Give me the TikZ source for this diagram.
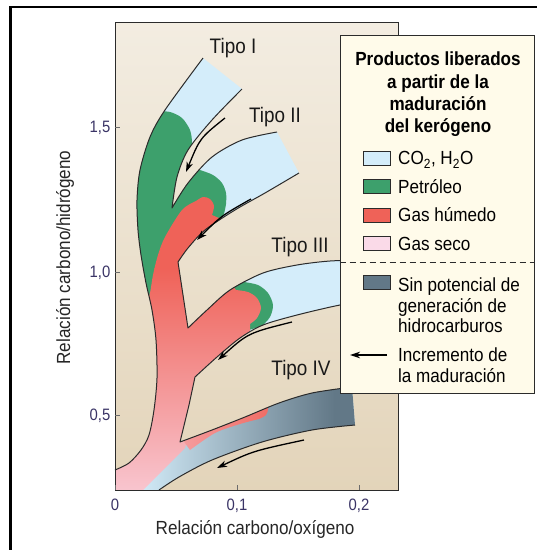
\documentclass[tikz,border=0pt]{standalone}
\usepackage{fontspec}
\setmainfont{Liberation Sans}[FakeStretch=0.9]
\usetikzlibrary{arrows.meta}
\definecolor{co2}{HTML}{D4EDFA}
\definecolor{petro}{HTML}{3DA06C}
\definecolor{gashum}{HTML}{EF6258}
\definecolor{gasseco}{HTML}{FADAE8}
\definecolor{sinpot}{HTML}{627887}
\definecolor{legfill}{HTML}{FFFBEA}
\definecolor{bgtop}{HTML}{FBF9F5}
\definecolor{bgbot}{HTML}{DBC8A6}
\definecolor{inkline}{HTML}{2B2B2B}
\definecolor{ticktext}{HTML}{3A3466}
\newcommand{\edgeOuter}{-- plot[smooth] coordinates {(203,58) (165,110) (150,137) (140,170) (137,200) (138,230) (141,255) (146,283) (152,310) (156,340) (157,378) (154,410) (149,435) (141,450) (129,463) (115,470)}}
\newcommand{\edgeIVlow}{-- plot[smooth] coordinates {(159,490) (179,477) (212,460) (262,442) (312,430) (355,425)}}
\newcommand{\edgeIVup}{-- plot[smooth] coordinates {(352,387) (312,393) (279,403) (245,417) (212,430) (180,442)}}
\newcommand{\edgeIIIlow}{-- plot[smooth] coordinates {(195,377) (217,357) (240,338) (263,325) (297,315) (340,305) (365,302)}}
\newcommand{\edgeIIIup}{-- plot[smooth] coordinates {(365,260) (330,261) (297,265) (263,273) (230,290) (207,310) (188,328)}}
\newcommand{\edgeIIlow}{-- plot[smooth] coordinates {(178,262) (188,248) (205,230) (235,210) (265,193) (299,173)}}
\newcommand{\edgeIIup}{-- plot[smooth] coordinates {(277,132) (242,140) (212,157) (188,183) (172,208)}}
\newcommand{\edgeIlow}{-- plot[smooth] coordinates {(172,208) (177,177) (188,150) (212,120) (242,89)}}
\newcommand{\kerogenshape}{(203,58) \edgeOuter -- (115,490) -- (159,490) \edgeIVlow -- (352,387) \edgeIVup -- (189,405) -- (195,377) \edgeIIIlow -- (365,260) \edgeIIIup -- (178,262) \edgeIIlow -- (277,132) \edgeIIup \edgeIlow -- cycle}

\begin{document}
\begin{tikzpicture}[x=1pt,y=-1pt,
	outerframe/.style={line width=2.6pt, black},
	plotbox/.style={draw=inkline, line width=0.9pt},
	bandline/.style={draw=inkline, line width=1pt, line join=round},
	maturity/.style={->, >={Stealth[length=10pt,width=6.5pt,inset=3pt]}, line width=1.3pt, black},
	axtick/.style={draw=inkline!70, line width=0.8pt},
	ticklab/.style={text=ticktext, font=\fontsize{16.5}{18}\selectfont, inner sep=0pt, text height=11.8pt, text depth=0pt},
	axislab/.style={text=black!85, font=\fontsize{19}{21}\selectfont, inner sep=0pt},
	tipolab/.style={text=black!90, font=\fontsize{21}{24}\selectfont, inner sep=0pt},
	legbox/.style={draw=inkline, line width=1pt, fill=legfill, minimum width=194pt, minimum height=358pt, inner sep=0pt},
	legtitle/.style={font=\fontsize{19}{22.3}\selectfont\bfseries, align=center, inner sep=0pt},
	legtext/.style={font=\fontsize{19}{20.5}\selectfont, inner sep=0pt, align=left},
	swatch/.style={draw=inkline, line width=0.8pt, minimum width=27pt, minimum height=14pt, inner sep=0pt},
	sepline/.style={draw=inkline, dash pattern=on 6pt off 4pt, line width=1pt}]
	\useasboundingbox (0,0) rectangle (537,550);
	\draw[outerframe] (537,7) -- (10.5,7) -- (10.5,550);
	\begin{scope}
		\clip (115,22) rectangle (398,490);
		\shade[top color=bgtop, bottom color=bgbot] (115,-212) rectangle (398,724);
	\end{scope}
	\begin{scope}
		\clip \kerogenshape;
		\fill[co2] (100,40) rectangle (400,500);
		\shade[left color=co2, right color=sinpot] (135,380) rectangle (335,500);
		\fill[sinpot] (334,380) rectangle (370,500);
		\fill[petro] (120,100) -- (155,111) -- plot[smooth] coordinates {(155,111) (170,112) (182,118) (190,130) (192,143) (190,155)} -- (196,168) -- plot[smooth] coordinates {(200,170) (213,175) (222,183) (226,193) (226,204) (224,214)} -- (215,226) -- (205,300) -- (120,300) -- cycle;
		\fill[petro] (200,270) -- (244,281) -- plot[smooth] coordinates {(244,282) (258,285) (268,293) (273,305) (270,317) (262,326)} -- (200,345) -- cycle;
		\begin{scope}
			\clip (100,310) -- (146,305) -- plot[smooth] coordinates {(146,305) (150,293) (153,275) (158,255) (165,237) (182,210) (196,201)} -- plot[smooth] coordinates {(196,201) (203,197) (210,199) (214,206) (212,215)} -- (228,222) -- (232,285) -- plot[smooth] coordinates {(236,290) (248,292) (257,298) (261,308) (257,318) (250,324)} -- (250,345) -- (200,400) -- (185,448) -- (138,495) -- (100,495) -- cycle;
			\fill[gashum] (100,180) rectangle (300,269);
			\shade[top color=gashum, bottom color=gasseco] (100,268) rectangle (300,538);
		\end{scope}
		\begin{scope}
			\clip (180,436) -- (255,400) -- plot[smooth] coordinates {(255,400) (263,402) (268,408) (266,415) (259,419)} -- plot[smooth] coordinates {(259,419) (240,424) (215,433) (190,450)} -- cycle;
			\shade[left color=gashum!40!gasseco, right color=gashum] (158,390) rectangle (288,460);
		\end{scope}
	\end{scope}
	\draw[bandline] (203,58) \edgeOuter;
	\draw[bandline] (159,490) \edgeIVlow;
	\draw[bandline] (352,387) \edgeIVup -- (189,405) -- (195,377) \edgeIIIlow;
	\draw[bandline] (365,260) \edgeIIIup -- (178,262) \edgeIIlow;
	\draw[bandline] (277,132) \edgeIIup \edgeIlow;
	\node[tipolab] (t1) at (233,48) {Tipo I};
	\node[tipolab] (t2) at (275,117) {Tipo II};
	\node[tipolab] (t3) at (300,247) {Tipo III};
	\node[tipolab] (t4) at (301,370) {Tipo IV};
	\coordinate (m1a) at (225,118); \coordinate (m1b) at (186,172);
	\coordinate (m2a) at (251,199); \coordinate (m2b) at (197,240);
	\coordinate (m3a) at (292,322); \coordinate (m3b) at (218,360);
	\coordinate (m4a) at (304,440); \coordinate (m4b) at (217,468);
	\draw[maturity] (m1a) .. controls (200,138) .. (m1b);
	\draw[maturity] (m2a) .. controls (221,216) .. (m2b);
	\draw[maturity] (m3a) .. controls (248,333) .. (m3b);
	\draw[maturity] (m4a) .. controls (253,451) .. (m4b);
	\draw[plotbox] (115,22) rectangle (398,490);
	\foreach \lab/\yy [count=\i] in {{1,5}/127, {1,0}/272, {0,5}/415}
	{
		\draw[axtick] (115,\yy) -- (120,\yy);
		\node[ticklab, anchor=east] (ty\i) at (110.5,\yy) {\lab};
	}
	\foreach \lab/\xx [count=\i] in {0/115, {0,1}/237, {0,2}/359}
	{
		\draw[axtick] (\xx,490) -- (\xx,485);
		\node[ticklab, anchor=north] (tx\i) at (\xx,498) {\lab};
	}
	\node[axislab] (xlab) at (255,529) {Relación carbono/oxígeno};
	\node[axislab, rotate=90] (ylab) at (65,257.5) {Relación carbono/hidrógeno};
	\node[legbox] (leg) at (437,214) {};
	\node[legtitle, anchor=north] (legtitle) at (438,52) {Productos liberados\\a partir de la\\maduración\\del kerógeno};
	\foreach \col/\txt/\yy [count=\i] in {co2/{CO\textsubscript{2}, H\textsubscript{2}O}/158, petro/Petróleo/186.5, gashum/Gas húmedo/215, gasseco/Gas seco/243.5}
	{
		\node[swatch, fill=\col] (sw\i) at (376.5,\yy) {};
		\node[legtext, anchor=west, text height=13.6pt, text depth=0pt] (lb\i) at (398,\yy) {\txt};
	}
	\draw[sepline] (leg.west |- 0,262) -- (leg.east |- 0,262);
	\node[swatch, fill=sinpot] (sw5) at (376.5,282.5) {};
	\node[legtext, anchor=north west] (lb5) at (398,278) {Sin potencial de\\generación de\\hidrocarburos};
	\coordinate (lga) at (387,355); \coordinate (lgb) at (350,355);
	\draw[maturity] (lga) -- (lgb);
	\node[legtext, anchor=north west] (lb6) at (398,348) {Incremento de\\la maduración};
\end{tikzpicture}
\end{document}
